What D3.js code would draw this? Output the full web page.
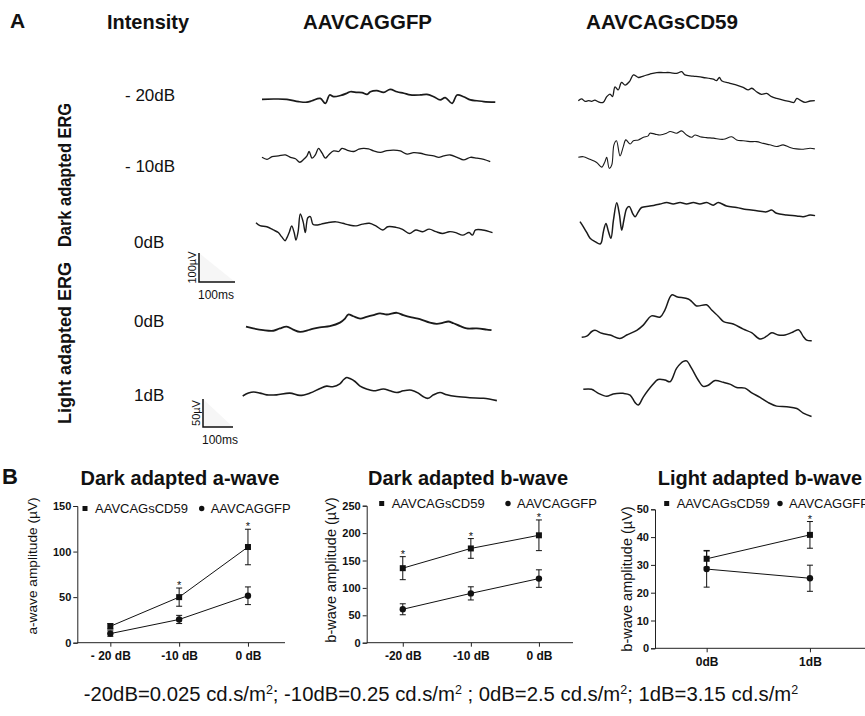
<!DOCTYPE html>
<html>
<head>
<meta charset="utf-8">
<script src="https://cdn.jsdelivr.net/npm/d3@7"></script>
<style>
  body { margin: 0; background: #fff; }
  text { font-family: "Liberation Sans", Arial, sans-serif; fill: #111; }
</style>
</head>
<body>
<script>
// Width and height of the whole figure
var w = 865;
var h = 716;

// ---- Panel A : ERG traces, [time in ms, amplitude in µV] ----
var darkGfp20 = [[0,0],[32,1],[69,0],[102,-8],[125,-10],[139,-5],[162,3],[176,-14],[188,15],[199,9],[218,13],[236,21],[245,26],[264,24],[278,23],[292,17],[301,26],[319,30],[338,24],[356,34],[375,26],[394,21],[412,15],[440,15],[458,17],[477,9],[495,-2],[509,6],[528,-14],[542,15],[560,9],[579,-2],[597,-5],[616,-8],[648,-10]];
var darkGfp10 = [[0,0],[14,-7],[28,2],[46,5],[65,8],[79,0],[93,-5],[105,-17],[116,-7],[125,5],[131,20],[139,-3],[148,8],[157,31],[167,14],[176,-3],[185,8],[199,22],[213,20],[222,31],[236,25],[255,20],[269,28],[282,31],[296,29],[310,22],[329,17],[347,23],[366,25],[384,22],[403,11],[421,16],[440,14],[458,8],[477,5],[491,0],[505,5],[523,8],[542,0],[560,-9],[579,0],[597,-3],[616,-7],[634,-15]];
var darkGfp0 = [[0,0],[11,-10],[30,-14],[48,-25],[62,-34],[71,-48],[81,-62],[85,-54],[93,-31],[99,-11],[106,-34],[111,-60],[117,-31],[123,30],[131,3],[137,-34],[144,17],[151,21],[158,-5],[167,-8],[181,-5],[199,0],[222,3],[241,-2],[259,-8],[278,-11],[296,-5],[315,-2],[333,-11],[352,-25],[366,-14],[389,-16],[407,-23],[426,-37],[444,-25],[463,-31],[481,-22],[500,-31],[518,-37],[537,-31],[555,-34],[574,-43],[592,-34],[601,-43],[610,-25],[629,-25],[657,-34]];
var darkCd5920 = [[0,0],[9,6],[19,-2],[28,0],[37,-2],[46,2],[56,-4],[69,-6],[79,14],[88,23],[95,14],[102,48],[111,37],[120,63],[130,54],[142,66],[153,89],[167,80],[181,85],[199,92],[218,97],[236,97],[255,97],[273,94],[287,100],[296,89],[319,85],[347,80],[375,74],[384,69],[392,80],[398,69],[421,60],[440,54],[458,46],[472,37],[482,43],[495,31],[509,22],[523,25],[537,14],[551,8],[569,2],[588,-3],[599,-6],[607,8],[616,2],[630,-6],[644,-1],[657,0]];
var darkCd5910 = [[0,0],[14,2],[32,-7],[51,-18],[65,-34],[74,-15],[79,0],[86,-38],[93,-26],[99,43],[106,57],[116,5],[125,37],[132,60],[144,46],[153,57],[167,60],[181,69],[194,74],[199,83],[213,80],[227,77],[245,83],[255,89],[273,83],[287,91],[301,77],[315,69],[324,77],[338,71],[356,68],[375,66],[403,62],[426,71],[440,60],[458,57],[477,54],[495,54],[514,48],[532,43],[551,37],[569,43],[588,34],[606,29],[625,28],[644,31],[657,29]];
var darkCd590 = [[0,0],[9,-17],[19,-38],[28,-57],[42,-69],[56,-77],[60,-69],[65,-34],[72,-6],[79,-34],[86,-57],[93,6],[102,65],[109,29],[116,-29],[122,6],[130,46],[137,52],[146,29],[153,17],[162,34],[171,49],[194,54],[222,61],[241,66],[259,61],[278,66],[296,61],[315,66],[333,61],[352,66],[370,57],[384,66],[407,54],[435,49],[463,42],[491,38],[518,34],[532,40],[546,29],[574,23],[602,20],[620,17],[639,23],[653,21]];
var lightGfp0 = [[0,0],[20,-3],[48,-6],[76,-7],[94,-3],[113,0],[131,-5],[150,-9],[178,-5],[205,-1],[233,1],[261,7],[275,14],[284,21],[298,18],[317,14],[335,17],[354,20],[372,23],[391,21],[419,24],[437,20],[460,16],[483,13],[511,7],[530,5],[548,7],[562,9],[576,6],[595,1],[613,-3],[641,-3],[669,-5],[682,-6]];
var lightGfp1 = [[0,0],[16,5],[30,7],[48,5],[67,2],[94,2],[131,5],[159,1],[187,5],[215,13],[233,17],[250,16],[270,21],[280,28],[289,32],[298,30],[312,25],[326,17],[344,12],[363,9],[391,12],[409,9],[428,6],[446,9],[469,10],[488,5],[501,-1],[515,-4],[530,2],[548,6],[567,2],[594,-1],[631,-3],[669,-4],[706,-8]];
var lightCd590 = [[0,0],[14,2],[28,10],[37,12],[56,7],[79,4],[106,-2],[125,4],[153,12],[171,21],[194,37],[218,35],[231,47],[250,73],[264,70],[296,66],[305,62],[319,54],[347,56],[361,47],[380,36],[394,27],[421,23],[449,14],[472,8],[495,-3],[514,2],[528,8],[546,4],[565,4],[583,8],[602,13],[616,1],[625,-5],[639,-6]];
var lightCd591 = [[0,0],[23,0],[42,-7],[65,-12],[83,-8],[111,-7],[130,-10],[144,-23],[153,-27],[167,-13],[190,6],[208,17],[227,16],[241,13],[259,36],[278,48],[287,49],[301,36],[319,16],[333,5],[347,7],[366,15],[389,12],[407,9],[426,3],[449,2],[468,-6],[491,-14],[514,-23],[537,-29],[565,-30],[593,-33],[611,-41],[634,-47]];

var intensityLabels = ["- 20dB", "- 10dB", "0dB", "0dB", "1dB"];

// ---- Panel B : amplitudes (mean, error) ----
var darkLevelsA = ["- 20 dB", "-10 dB", "0 dB"];
var darkLevelsB = ["-20 dB", "-10 dB", "0 dB"];
var lightLevels = ["0dB", "1dB"];

var aWaveCd59 = [18, 50, 105];
var aWaveCd59Err = [3, 10, 19.5];
var aWaveGfp = [10, 25.5, 51.5];
var aWaveGfpErr = [3, 4.5, 9.7];
var aWaveSig = [false, true, true];

var bWaveCd59 = [136, 172, 196];
var bWaveCd59Err = [21, 18, 28];
var bWaveGfp = [61, 90, 117];
var bWaveGfpErr = [10, 12, 16];
var bWaveSig = [true, true, true];

var lightCd59 = [32.2, 40.8];
var lightCd59Err = [3, 4.8];
var lightGfp = [28.5, 25.2];
var lightGfpErr = [6.5, 4.7];
var lightSig = [false, true];

var seriesNames = ["AAVCAGsCD59", "AAVCAGGFP"];

// footnote pieces, each followed by a superscript "2"
var footParts = ["-20dB=0.025 cd.s/m", "; -10dB=0.25 cd.s/m", " ; 0dB=2.5 cd.s/m", "; 1dB=3.15 cd.s/m"];

var svg = d3.select("body")
        .append("svg")
        .attr("width", w)
        .attr("height", h);

svg.append("rect").attr("width", w).attr("height", h).attr("fill", "#fff");

// ================= Panel A =================
svg.append("text").attr("x", 10).attr("y", 28)
    .style("font-size", "21px").style("font-weight", "bold").text("A");

// column headers (condensed bold look)
[["Intensity", 107, 82], ["AAVCAGGFP", 303, 129], ["AAVCAGsCD59", 586, 152]].forEach(function(d) {
    svg.append("text")
        .attr("x", d[1]).attr("y", 29)
        .attr("textLength", d[2]).attr("lengthAdjust", "spacingAndGlyphs")
        .style("font-size", "21px").style("font-weight", "bold")
        .text(d[0]);
});

// rotated row group labels
[["Dark adapted ERG", 175, 144], ["Light adapted ERG", 343, 162]].forEach(function(d) {
    svg.append("text")
        .attr("transform", "translate(71," + d[1] + ") rotate(-90)")
        .attr("text-anchor", "middle")
        .attr("textLength", d[2]).attr("lengthAdjust", "spacingAndGlyphs")
        .style("font-size", "19px").style("font-weight", "bold")
        .text(d[0]);
});

// intensity labels
var labelPos = [[125, 101], [125, 172], [134, 248], [134, 327], [134, 401]];
intensityLabels.forEach(function(t, i) {
    svg.append("text").attr("x", labelPos[i][0]).attr("y", labelPos[i][1])
        .style("font-size", "17px").text(t);
});

// traces: x0/y0 = where the trace starts, uv = µV that spans 29px
var traces = [
    {data: darkGfp20, x0: 262, y0: 99.3, uv: 100, sw: 1.7},
    {data: darkGfp10, x0: 262, y0: 157.3, uv: 100, sw: 1.3},
    {data: darkGfp0, x0: 256, y0: 222.7, uv: 100, sw: 1.4},
    {data: darkCd5920, x0: 578.3, y0: 100.7, uv: 100, sw: 1.3},
    {data: darkCd5910, x0: 578.3, y0: 157.3, uv: 100, sw: 1.1},
    {data: darkCd590, x0: 580, y0: 221.7, uv: 100, sw: 1.5},
    {data: lightGfp0, x0: 246, y0: 326.7, uv: 50, sw: 1.8},
    {data: lightGfp1, x0: 242.7, y0: 396, uv: 50, sw: 1.6},
    {data: lightCd590, x0: 581.7, y0: 337.3, uv: 50, sw: 1.5},
    {data: lightCd591, x0: 583.3, y0: 389.3, uv: 50, sw: 1.5}
];

traces.forEach(function(tr) {
    var x = d3.scaleLinear().domain([0, 100]).range([tr.x0, tr.x0 + 36]);
    var y = d3.scaleLinear().domain([0, tr.uv]).range([tr.y0, tr.y0 - 29]);
    var line = d3.line()
        .x(function(d) { return x(d[0]); })
        .y(function(d) { return y(d[1]); })
        .curve(d3.curveCatmullRom.alpha(0.5));
    svg.append("path")
        .datum(tr.data)
        .attr("d", line)
        .attr("fill", "none")
        .attr("stroke", "#1a1a1a")
        .attr("stroke-width", tr.sw)
        .attr("stroke-linejoin", "round");
});

// scale bars
function scaleBar(x0, yTop, yBot, xEnd, vLabel, tLabelY) {
    svg.append("path")
        .attr("d", "M" + x0 + "," + yTop + "L" + x0 + "," + yBot + "L" + xEnd + "," + yBot + "Z")
        .attr("fill", "#f6f6f6");
    svg.append("path")
        .attr("d", "M" + x0 + "," + yTop + "L" + x0 + "," + yBot + "L" + xEnd + "," + yBot)
        .attr("fill", "none").attr("stroke", "#111").attr("stroke-width", 1.5);
    svg.append("text")
        .attr("transform", "translate(" + (x0 - 3) + "," + ((yTop + yBot) / 2) + ") rotate(-90)")
        .attr("text-anchor", "middle")
        .style("font-size", "11px").text(vLabel);
    svg.append("text").attr("x", x0 - 1).attr("y", tLabelY)
        .style("font-size", "12px").text("100ms");
}
scaleBar(199, 253, 282, 235, "100µV", 299);
scaleBar(203, 399, 427, 233, "50µV", 444);

// ================= Panel B =================
svg.append("text").attr("x", 2).attr("y", 484)
    .style("font-size", "22px").style("font-weight", "bold").text("B");

function drawChart(opt) {
    var g = svg.append("g");
    var x = d3.scalePoint().domain(opt.levels).range([opt.left, opt.rightPt]).padding(opt.pad);
    var y = d3.scaleLinear().domain([0, opt.max]).range([opt.bottom, opt.top]);

    // title
    g.append("text").attr("x", opt.titleX).attr("y", 485)
        .attr("text-anchor", "middle")
        .style("font-size", "20px").style("font-weight", "bold")
        .text(opt.title);

    // y axis
    var ya = g.append("g").attr("transform", "translate(" + opt.left + ",0)")
        .call(d3.axisLeft(y).tickValues(d3.range(0, opt.max + 1, opt.step)).tickSize(4).tickPadding(2));
    ya.select(".domain").attr("stroke", "#222");
    ya.selectAll(".tick line").attr("stroke", "#222");
    ya.selectAll(".tick text")
        .style("font-family", "'Liberation Sans', Arial, sans-serif")
        .style("font-size", "11px").style("font-weight", "bold").attr("fill", "#111");

    // x axis
    var xa = g.append("g").attr("transform", "translate(0," + opt.bottom + ")")
        .call(d3.axisBottom(x).tickSize(4).tickPadding(5));
    xa.select(".domain").remove();
    xa.selectAll(".tick line").attr("stroke", "#222");
    xa.selectAll(".tick text")
        .style("font-family", "'Liberation Sans', Arial, sans-serif")
        .style("font-size", "12px").style("font-weight", "bold").attr("fill", "#111");
    g.append("line")
        .attr("x1", opt.left).attr("x2", opt.axisEnd)
        .attr("y1", opt.bottom).attr("y2", opt.bottom)
        .attr("stroke", "#222");

    // y title
    g.append("text")
        .attr("transform", "translate(" + opt.yTitleX + "," + opt.yTitleY + ") rotate(-90)")
        .attr("text-anchor", "middle")
        .style("font-size", opt.yTitleSize + "px")
        .text(opt.yTitle);

    // series
    var series = [
        {vals: opt.cd59, errs: opt.cd59Err, shape: "square"},
        {vals: opt.gfp, errs: opt.gfpErr, shape: "circle"}
    ];
    var line = d3.line()
        .x(function(d, i) { return x(opt.levels[i]); })
        .y(function(d) { return y(d); });

    series.forEach(function(s) {
        g.append("path").datum(s.vals).attr("d", line)
            .attr("fill", "none").attr("stroke", "#111").attr("stroke-width", 1);
        s.vals.forEach(function(v, i) {
            var cx = x(opt.levels[i]);
            var e = s.errs[i];
            g.append("line").attr("x1", cx).attr("x2", cx)
                .attr("y1", y(v - e)).attr("y2", y(v + e)).attr("stroke", "#111");
            [v - e, v + e].forEach(function(c) {
                g.append("line").attr("x1", cx - 3).attr("x2", cx + 3)
                    .attr("y1", y(c)).attr("y2", y(c)).attr("stroke", "#111");
            });
            if (s.shape === "square") {
                g.append("rect").attr("x", cx - 3).attr("y", y(v) - 3)
                    .attr("width", 6).attr("height", 6).attr("fill", "#111");
            } else {
                g.append("circle").attr("cx", cx).attr("cy", y(v)).attr("r", 3.2).attr("fill", "#111");
            }
        });
    });

    // significance stars above the upper sCD59 error bar
    opt.sig.forEach(function(s, i) {
        if (!s) return;
        g.append("text")
            .attr("x", x(opt.levels[i])).attr("y", y(opt.cd59[i] + opt.cd59Err[i]) + 1)
            .attr("text-anchor", "middle")
            .style("font-size", "11px")
            .text("*");
    });

    // legend
    g.append("rect").attr("x", opt.legX - 2.5).attr("y", opt.legY - 2.5)
        .attr("width", 5).attr("height", 5).attr("fill", "#111");
    g.append("text").attr("x", opt.legX + 10).attr("y", opt.legY + 4.5)
        .style("font-size", "13px").text(seriesNames[0]);
    g.append("circle").attr("cx", opt.legX2).attr("cy", opt.legY).attr("r", 2.7).attr("fill", "#111");
    g.append("text").attr("x", opt.legX2 + 9).attr("y", opt.legY + 4.5)
        .style("font-size", "13px").text(seriesNames[1]);
}

drawChart({
    title: "Dark adapted a-wave", titleX: 180,
    levels: darkLevelsA, left: 77.3, rightPt: 281, pad: 0.48, axisEnd: 285,
    max: 150, step: 50, top: 506, bottom: 642.7,
    yTitle: "a-wave amplitude (µV)", yTitleX: 37, yTitleY: 566, yTitleSize: 13.7,
    cd59: aWaveCd59, cd59Err: aWaveCd59Err, gfp: aWaveGfp, gfpErr: aWaveGfpErr, sig: aWaveSig,
    legX: 85, legX2: 201.7, legY: 508.5
});

drawChart({
    title: "Dark adapted b-wave", titleX: 468,
    levels: darkLevelsB, left: 366.7, rightPt: 575, pad: 0.53, axisEnd: 573,
    max: 250, step: 50, top: 505.7, bottom: 642.7,
    yTitle: "b-wave amplitude (µV)", yTitleX: 336, yTitleY: 570, yTitleSize: 14.5,
    cd59: bWaveCd59, cd59Err: bWaveCd59Err, gfp: bWaveGfp, gfpErr: bWaveGfpErr, sig: bWaveSig,
    legX: 381.7, legX2: 508, legY: 503.5
});

drawChart({
    title: "Light adapted b-wave", titleX: 760,
    levels: lightLevels, left: 655, rightPt: 861.6, pad: 0.5, axisEnd: 865,
    max: 50, step: 10, top: 509.3, bottom: 648.3,
    yTitle: "b-wave amplitude (µV)", yTitleX: 632, yTitleY: 579, yTitleSize: 14.5,
    cd59: lightCd59, cd59Err: lightCd59Err, gfp: lightGfp, gfpErr: lightGfpErr, sig: lightSig,
    legX: 666.7, legX2: 780, legY: 503.5
});

// footer with superscripts
var foot = svg.append("text").attr("x", 441).attr("y", 701)
    .attr("text-anchor", "middle")
    .style("font-size", "20.3px");
footParts.forEach(function(p, i) {
    foot.append("tspan").attr("dy", i === 0 ? 0 : 7).text(p);
    foot.append("tspan").attr("dy", -7).style("font-size", "12.5px").text("2");
});
</script>
</body>
</html>
